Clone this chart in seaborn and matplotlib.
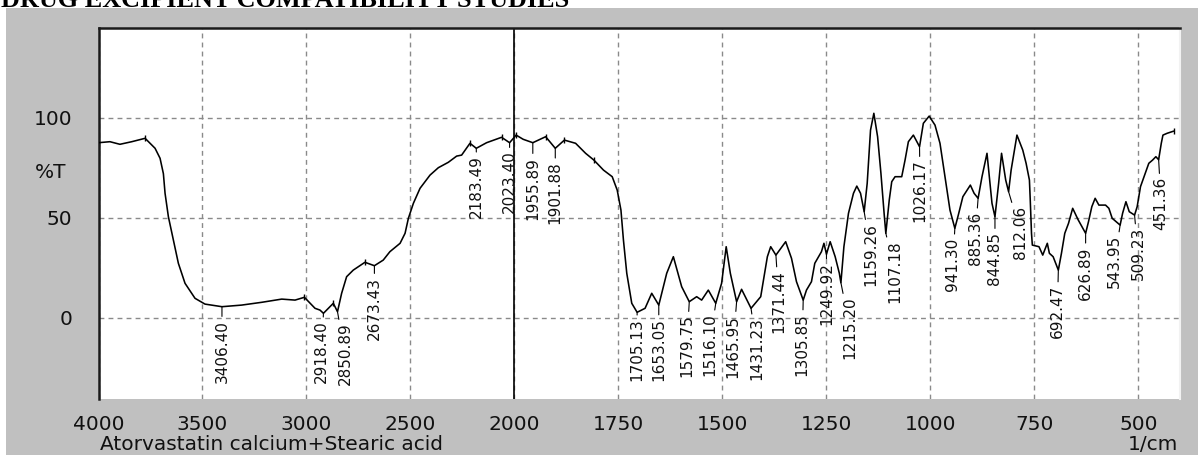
import numpy as np
import pandas as pd
import matplotlib
matplotlib.use("Agg")
import matplotlib.pyplot as plt
import seaborn as sns
from matplotlib.ticker import FixedLocator
from matplotlib.patches import Rectangle

# ---------------- data ----------------
wavenumber = [4000, 3945, 3897, 3840, 3776, 3728, 3704, 3688, 3680, 3664, 3640, 3616, 3584, 3536, 3488,
              3406.4, 3312, 3215, 3119, 3055, 3010, 2959, 2935, 2918.4, 2871, 2850.89, 2831, 2807, 2775,
              2719, 2673.43, 2631, 2599, 2550, 2526, 2510, 2486, 2454, 2406, 2366, 2318, 2278, 2254, 2214,
              2183.49, 2134, 2062, 2023.4, 1996, 1979, 1955.89, 1925, 1901.88, 1880, 1853, 1829, 1809,
              1786, 1765, 1753, 1744, 1738, 1730, 1718, 1705.13, 1686, 1670, 1653.05, 1634, 1618, 1598,
              1579.75, 1562, 1550, 1534, 1516.1, 1502, 1491, 1481, 1465.95, 1454, 1431.23, 1408, 1392,
              1384, 1371.44, 1348, 1334, 1322, 1305.85, 1298, 1286, 1278, 1262, 1256, 1249.92, 1241, 1229,
              1219, 1215.2, 1208, 1197, 1185, 1177, 1168, 1159.26, 1152, 1144, 1136, 1127, 1119, 1111,
              1107.18, 1099, 1093, 1085, 1069, 1061, 1053, 1041, 1026.17, 1017, 1003, 989, 977, 965, 953,
              941.3, 933, 922, 904, 895, 885.36, 876, 864, 852, 844.85, 836, 829, 819, 812.06, 806, 792,
              778, 770, 762, 760, 757, 755, 739, 730, 719, 714, 705, 692.47, 685, 677, 668, 658, 645,
              626.89, 620, 612, 604, 595, 579, 571, 563, 543.95, 538, 530, 522, 509.23, 503, 495, 485,
              475, 466, 458, 451.36, 445, 441, 431, 415]

transmittance = [87.5, 88, 86.7, 88, 89.7, 84.7, 79.7, 72, 62.2, 50.5, 38.8, 27.2, 17.2, 9.7, 6.8,
                 5.5, 6.3, 7.7, 9.3, 8.8, 10.2, 4.7, 3.8, 2.2, 7.2, 3, 12.2, 20.5, 23.8,
                 27.7, 26, 28.8, 33, 37.2, 42.2, 49.7, 57.2, 64.7, 71.3, 75, 77.7, 80.8, 81.3, 87.2,
                 84.7, 87.5, 90.2, 87.5, 91.3, 89.2, 87.5, 90.5, 84.7, 88.8, 87.2, 82.2, 78.8,
                 73.8, 70.5, 63.8, 53.8, 38.8, 22.2, 7.2, 2.7, 4.7, 12.2, 6.3, 22.2, 30.5, 15.5,
                 8, 10.5, 8.8, 13.8, 7.2, 17.2, 35.5, 22.2, 8, 14.2, 4.7, 10.5, 30.5,
                 35.5, 31.3, 38, 29.7, 18, 8.8, 13.8, 18, 27.2, 33, 37.2, 31.8, 38, 30.5,
                 22.2, 17.5, 35.5, 52.2, 62.2, 65.8, 62.2, 53, 67.2, 93.8, 102.2, 90.5, 72.2, 51.3,
                 42.2, 58.8, 68, 70.5, 70.5, 78.8, 88, 91.3, 85.5, 97.2, 100.8, 96.3, 87.2, 70.5, 53.8,
                 44.7, 51.3, 60.5, 66.3, 62.2, 59.7, 70.5, 82.2, 57.2, 50.5, 67.2, 82.2, 68.8, 63, 73.8, 91.3,
                 83.8, 77.2, 68.8, 58.8, 42.2, 36.3, 35.5, 31.3, 37.2, 32.2, 30.5, 23.8, 32.2, 42.2, 47.2, 54.7, 49,
                 42.2, 48, 55.5, 59.7, 56.3, 56.3, 54.7, 49.7, 46.3, 52.2, 58, 53, 51.3, 55.5, 65.5, 71.3,
                 77.2, 78.8, 80.5, 79, 87.2, 91.3, 92.2, 93.3]

peak_labels = ["3406.40", "2918.40", "2850.89", "2673.43", "2183.49", "2023.40", "1955.89", "1901.88",
               "1705.13", "1653.05", "1579.75", "1516.10", "1465.95", "1431.23", "1371.44", "1305.85",
               "1249.92", "1215.20", "1159.26", "1107.18", "1026.17", "941.30", "885.36", "844.85",
               "812.06", "692.47", "626.89", "543.95", "509.23", "451.36"]

# small unlabelled maxima marks shown on the trace
marked_maxima = [3776, 3010, 2871, 2719, 2214, 2062, 1996, 1925, 1880, 1809, 415]

x_major_ticks = [4000, 3500, 3000, 2500, 2000, 1750, 1500, 1250, 1000, 750, 500]
x_tick_labels = ["4000", "3500", "3000", "2500", "2000", "1750", "1500", "1250", "1000", "750", "500"]
y_major_ticks = [0, 50, 100]
y_tick_labels = ["0", "50", "100"]

title_text = "DRUG EXCIPIENT COMPATIBILITY STUDIES"
sample_text = "Atorvastatin calcium+Stearic acid"
y_label_text = "%T"
x_unit_text = "1/cm"

# label layout offsets in pixels (dx right, dy down from the peak)
label_offsets = {
    "3406.40": (0, 13), "2918.40": (-2, 7), "2850.89": (7.5, 11), "2673.43": (0, 11),
    "2183.49": (0, 7), "2023.40": (0, 8), "1955.89": (0, 14), "1901.88": (0, 13),
    "1705.13": (0, 6), "1653.05": (0, 13), "1579.75": (-2.5, 13), "1516.10": (-6, 10),
    "1465.95": (-3.5, 13), "1431.23": (5.5, 9), "1371.44": (3, 15), "1305.85": (-1, 13),
    "1249.92": (0, 8), "1215.20": (9, 14), "1159.26": (7, 11), "1107.18": (9, 7),
    "1026.17": (0.5, 13), "941.30": (-2, 9), "885.36": (-3, 13), "844.85": (0, 15),
    "812.06": (12, 14), "692.47": (-1, 15), "626.89": (0, 13), "543.95": (-5.5, 10),
    "509.23": (3.5, 12), "451.36": (2.5, 17),
}

# ---------------- style ----------------
sns.set_style("white")
plt.rcParams["font.family"] = ["DejaVu Sans"]

W, H = 1198, 455
fig = plt.figure(figsize=(W / 100, H / 100), dpi=100)
fig.patch.set_facecolor("white")
fig.patches.append(Rectangle((6 / W, 0), 1, 1 - 8 / H, transform=fig.transFigure,
                             facecolor="#c0c0c0", edgecolor="none", zorder=-10))

ax = fig.add_axes([98.5 / W, (H - 399) / H, (1180 - 98.5) / W, (399 - 28) / H])
ax.set_facecolor("white")


def fwd(w):
    w = np.asarray(w, dtype=float)
    return np.where(w > 2000, 2000 + (w - 2000) / 2.0, w)


def inv(u):
    u = np.asarray(u, dtype=float)
    return np.where(u > 2000, 2000 + (u - 2000) * 2.0, u)


ax.set_xscale("function", functions=(fwd, inv))

df = pd.DataFrame({"wavenumber": wavenumber, "T": transmittance})
sns.lineplot(data=df, x="wavenumber", y="T", ax=ax, color="black", linewidth=1.15,
             sort=False, estimator=None, zorder=3)

wn_asc = np.array(wavenumber)[::-1]
tr_asc = np.array(transmittance)[::-1]
mark_t = np.interp(marked_maxima, wn_asc, tr_asc)
ax.plot(marked_maxima, mark_t, linestyle="none", marker="|", markersize=5, markeredgewidth=1.0,
        color="black", zorder=3)

ax.set_xlim(4000, 400)
ax.set_ylim(-40.65, 144.85)

# grid + break line
ax.set_axisbelow(True)
ax.grid(True, which="major", color="#8a8a8a", linestyle=(0, (3.5, 3)), linewidth=1.0)
ax.axvline(2000, color="black", linewidth=1.2, zorder=2)

# ticks
minor_x = [v for v in list(range(4000, 2000, -100)) + list(range(2000, 399, -50)) if v not in x_major_ticks]
ax.xaxis.set_major_locator(FixedLocator(x_major_ticks))
ax.xaxis.set_minor_locator(FixedLocator(minor_x))
ax.set_xticks(x_major_ticks, labels=x_tick_labels)
ax.set_yticks(y_major_ticks, labels=y_tick_labels)
ax.yaxis.set_minor_locator(FixedLocator([v for v in range(-40, 141, 10) if v not in y_major_ticks]))

ax.tick_params(axis="x", which="major", direction="out", length=4, width=1.3, pad=5,
               labelsize=14.5, colors="black", labelcolor="#111111")
ax.tick_params(axis="x", which="minor", direction="out", length=1.8, width=1.3, colors="black")
ax.tick_params(axis="y", which="major", direction="out", length=16, width=1.1, pad=3,
               labelsize=14.5, colors="black", labelcolor="#111111")
ax.tick_params(axis="y", which="minor", direction="out", length=6, width=1.1, colors="black")
ax.set_xlabel("")
ax.set_ylabel("")

# frame
for side in ["top", "left"]:
    ax.spines[side].set_color("#1a1a1a")
    ax.spines[side].set_linewidth(1.8)
ax.spines["right"].set_color("#f2f2f2")
ax.spines["right"].set_linewidth(1.5)
ax.spines["bottom"].set_position(("outward", 2.2))
ax.spines["bottom"].set_color("#c0c0c0")
ax.spines["bottom"].set_linewidth(1.0)

# peak labels
for lbl in peak_labels:
    w = float(lbl)
    t = float(np.interp(w, wn_asc, tr_asc))
    dx, dy = label_offsets[lbl]
    ax.annotate(lbl, xy=(w, t), xytext=(dx * 0.72, -dy * 0.72), textcoords="offset points",
                rotation=90, ha="center", va="top", fontsize=11, color="#111111",
                arrowprops=dict(arrowstyle="-", color="black", lw=0.8, shrinkA=0, shrinkB=0),
                annotation_clip=False, zorder=4)

# texts
fig.text(51 / W, 1 - 173 / H, y_label_text, ha="center", va="center", fontsize=14.5, color="#111111")
fig.text(100 / W, 1 - 450 / H, sample_text, ha="left", va="baseline", fontsize=14.5, color="#111111")
fig.text(1178 / W, 1 - 450 / H, x_unit_text, ha="right", va="baseline", fontsize=14.5, color="#111111")
# the title is cropped by the top edge in the reference image
fig.text(1 / W, 1 - 7 / H, title_text, ha="left", va="baseline", fontsize=18.9,
         family=["Liberation Serif", "DejaVu Serif"], weight="bold", color="black")

fig.savefig("out.png", dpi=100)
